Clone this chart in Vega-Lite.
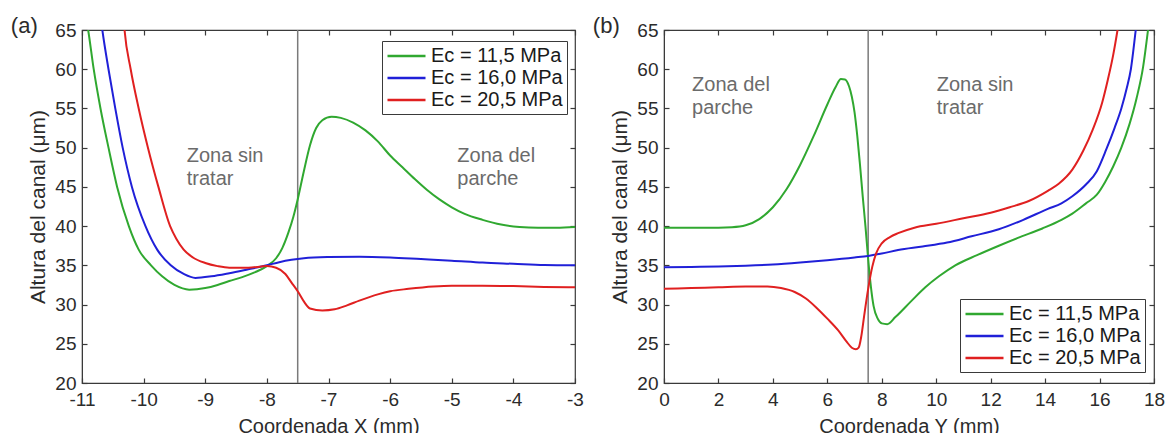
{
  "$schema": "https://vega.github.io/schema/vega-lite/v6.json",
  "padding": {"left": 10, "top": 14, "right": 0, "bottom": 0},
  "background": "white",
  "config": {
    "font": "Liberation Sans",
    "view": {"stroke": "#3a3a3a", "strokeWidth": 1.2},
    "axis": {
      "grid": false,
      "labelFont": "Liberation Sans",
      "titleFont": "Liberation Sans",
      "labelFontSize": 19,
      "titleFontSize": 20,
      "labelColor": "#2b2b2b",
      "titleColor": "#2b2b2b",
      "titleFontWeight": "normal",
      "domainColor": "#3a3a3a",
      "tickColor": "#3a3a3a",
      "tickWidth": 1.2,
      "tickSize": -5,
      "labelFlush": false,
      "labelOverlap": false
    },
    "title": {"font": "Liberation Sans", "fontSize": 22, "fontWeight": "normal", "color": "#2b2b2b"},
    "legend": {"labelFont": "Liberation Sans"}
  },
  "datasets": {
    "left": [
      {"x": -10.97, "h": 68, "s": "Ec = 11,5 MPa"},
      {"x": -10.9, "h": 65, "s": "Ec = 11,5 MPa"},
      {"x": -10.81, "h": 60, "s": "Ec = 11,5 MPa"},
      {"x": -10.7, "h": 55, "s": "Ec = 11,5 MPa"},
      {"x": -10.57, "h": 50, "s": "Ec = 11,5 MPa"},
      {"x": -10.43, "h": 45, "s": "Ec = 11,5 MPa"},
      {"x": -10.24, "h": 40, "s": "Ec = 11,5 MPa"},
      {"x": -10.08, "h": 37, "s": "Ec = 11,5 MPa"},
      {"x": -9.88, "h": 35, "s": "Ec = 11,5 MPa"},
      {"x": -9.7, "h": 33.6, "s": "Ec = 11,5 MPa"},
      {"x": -9.5, "h": 32.5, "s": "Ec = 11,5 MPa"},
      {"x": -9.26, "h": 31.9, "s": "Ec = 11,5 MPa"},
      {"x": -9.0, "h": 32.1, "s": "Ec = 11,5 MPa"},
      {"x": -8.8, "h": 32.5, "s": "Ec = 11,5 MPa"},
      {"x": -8.61, "h": 33.0, "s": "Ec = 11,5 MPa"},
      {"x": -8.4, "h": 33.5, "s": "Ec = 11,5 MPa"},
      {"x": -8.2, "h": 34.1, "s": "Ec = 11,5 MPa"},
      {"x": -8.0, "h": 34.9, "s": "Ec = 11,5 MPa"},
      {"x": -7.85, "h": 35.9, "s": "Ec = 11,5 MPa"},
      {"x": -7.75, "h": 37.2, "s": "Ec = 11,5 MPa"},
      {"x": -7.65, "h": 39.2, "s": "Ec = 11,5 MPa"},
      {"x": -7.57, "h": 41.2, "s": "Ec = 11,5 MPa"},
      {"x": -7.5, "h": 43.4, "s": "Ec = 11,5 MPa"},
      {"x": -7.4, "h": 47.0, "s": "Ec = 11,5 MPa"},
      {"x": -7.3, "h": 50.3, "s": "Ec = 11,5 MPa"},
      {"x": -7.2, "h": 52.5, "s": "Ec = 11,5 MPa"},
      {"x": -7.1, "h": 53.5, "s": "Ec = 11,5 MPa"},
      {"x": -6.95, "h": 53.95, "s": "Ec = 11,5 MPa"},
      {"x": -6.8, "h": 53.8, "s": "Ec = 11,5 MPa"},
      {"x": -6.6, "h": 53.2, "s": "Ec = 11,5 MPa"},
      {"x": -6.4, "h": 52.2, "s": "Ec = 11,5 MPa"},
      {"x": -6.2, "h": 50.8, "s": "Ec = 11,5 MPa"},
      {"x": -6.0, "h": 49.0, "s": "Ec = 11,5 MPa"},
      {"x": -5.8, "h": 47.5, "s": "Ec = 11,5 MPa"},
      {"x": -5.6, "h": 46.0, "s": "Ec = 11,5 MPa"},
      {"x": -5.4, "h": 44.6, "s": "Ec = 11,5 MPa"},
      {"x": -5.2, "h": 43.4, "s": "Ec = 11,5 MPa"},
      {"x": -5.0, "h": 42.4, "s": "Ec = 11,5 MPa"},
      {"x": -4.8, "h": 41.6, "s": "Ec = 11,5 MPa"},
      {"x": -4.5, "h": 40.8, "s": "Ec = 11,5 MPa"},
      {"x": -4.2, "h": 40.2, "s": "Ec = 11,5 MPa"},
      {"x": -3.9, "h": 39.9, "s": "Ec = 11,5 MPa"},
      {"x": -3.6, "h": 39.8, "s": "Ec = 11,5 MPa"},
      {"x": -3.3, "h": 39.8, "s": "Ec = 11,5 MPa"},
      {"x": -3.0, "h": 39.9, "s": "Ec = 11,5 MPa"},

      {"x": -10.72, "h": 68, "s": "Ec = 16,0 MPa"},
      {"x": -10.67, "h": 65, "s": "Ec = 16,0 MPa"},
      {"x": -10.57, "h": 60, "s": "Ec = 16,0 MPa"},
      {"x": -10.46, "h": 55, "s": "Ec = 16,0 MPa"},
      {"x": -10.34, "h": 50, "s": "Ec = 16,0 MPa"},
      {"x": -10.19, "h": 45, "s": "Ec = 16,0 MPa"},
      {"x": -9.97, "h": 40, "s": "Ec = 16,0 MPa"},
      {"x": -9.78, "h": 37, "s": "Ec = 16,0 MPa"},
      {"x": -9.56, "h": 35, "s": "Ec = 16,0 MPa"},
      {"x": -9.35, "h": 33.9, "s": "Ec = 16,0 MPa"},
      {"x": -9.16, "h": 33.4, "s": "Ec = 16,0 MPa"},
      {"x": -8.9, "h": 33.6, "s": "Ec = 16,0 MPa"},
      {"x": -8.61, "h": 34.0, "s": "Ec = 16,0 MPa"},
      {"x": -8.3, "h": 34.5, "s": "Ec = 16,0 MPa"},
      {"x": -8.0, "h": 35.0, "s": "Ec = 16,0 MPa"},
      {"x": -7.8, "h": 35.4, "s": "Ec = 16,0 MPa"},
      {"x": -7.6, "h": 35.7, "s": "Ec = 16,0 MPa"},
      {"x": -7.4, "h": 35.9, "s": "Ec = 16,0 MPa"},
      {"x": -7.0, "h": 36.05, "s": "Ec = 16,0 MPa"},
      {"x": -6.5, "h": 36.1, "s": "Ec = 16,0 MPa"},
      {"x": -6.0, "h": 36.0, "s": "Ec = 16,0 MPa"},
      {"x": -5.5, "h": 35.8, "s": "Ec = 16,0 MPa"},
      {"x": -5.0, "h": 35.6, "s": "Ec = 16,0 MPa"},
      {"x": -4.5, "h": 35.35, "s": "Ec = 16,0 MPa"},
      {"x": -4.0, "h": 35.2, "s": "Ec = 16,0 MPa"},
      {"x": -3.5, "h": 35.05, "s": "Ec = 16,0 MPa"},
      {"x": -3.0, "h": 35.0, "s": "Ec = 16,0 MPa"},

      {"x": -10.34, "h": 68, "s": "Ec = 20,5 MPa"},
      {"x": -10.31, "h": 65, "s": "Ec = 20,5 MPa"},
      {"x": -10.21, "h": 60, "s": "Ec = 20,5 MPa"},
      {"x": -10.08, "h": 55, "s": "Ec = 20,5 MPa"},
      {"x": -9.93, "h": 50, "s": "Ec = 20,5 MPa"},
      {"x": -9.76, "h": 45, "s": "Ec = 20,5 MPa"},
      {"x": -9.57, "h": 40, "s": "Ec = 20,5 MPa"},
      {"x": -9.47, "h": 38.4, "s": "Ec = 20,5 MPa"},
      {"x": -9.35, "h": 37.0, "s": "Ec = 20,5 MPa"},
      {"x": -9.2, "h": 36.0, "s": "Ec = 20,5 MPa"},
      {"x": -9.0, "h": 35.3, "s": "Ec = 20,5 MPa"},
      {"x": -8.8, "h": 34.9, "s": "Ec = 20,5 MPa"},
      {"x": -8.61, "h": 34.7, "s": "Ec = 20,5 MPa"},
      {"x": -8.3, "h": 34.7, "s": "Ec = 20,5 MPa"},
      {"x": -8.0, "h": 34.9, "s": "Ec = 20,5 MPa"},
      {"x": -7.85, "h": 34.7, "s": "Ec = 20,5 MPa"},
      {"x": -7.7, "h": 33.9, "s": "Ec = 20,5 MPa"},
      {"x": -7.6, "h": 32.8, "s": "Ec = 20,5 MPa"},
      {"x": -7.5, "h": 31.7, "s": "Ec = 20,5 MPa"},
      {"x": -7.4, "h": 30.4, "s": "Ec = 20,5 MPa"},
      {"x": -7.3, "h": 29.5, "s": "Ec = 20,5 MPa"},
      {"x": -7.1, "h": 29.25, "s": "Ec = 20,5 MPa"},
      {"x": -6.9, "h": 29.4, "s": "Ec = 20,5 MPa"},
      {"x": -6.7, "h": 29.9, "s": "Ec = 20,5 MPa"},
      {"x": -6.5, "h": 30.5, "s": "Ec = 20,5 MPa"},
      {"x": -6.2, "h": 31.3, "s": "Ec = 20,5 MPa"},
      {"x": -6.0, "h": 31.7, "s": "Ec = 20,5 MPa"},
      {"x": -5.7, "h": 32.0, "s": "Ec = 20,5 MPa"},
      {"x": -5.3, "h": 32.3, "s": "Ec = 20,5 MPa"},
      {"x": -5.0, "h": 32.4, "s": "Ec = 20,5 MPa"},
      {"x": -4.5, "h": 32.4, "s": "Ec = 20,5 MPa"},
      {"x": -4.0, "h": 32.35, "s": "Ec = 20,5 MPa"},
      {"x": -3.5, "h": 32.25, "s": "Ec = 20,5 MPa"},
      {"x": -3.0, "h": 32.2, "s": "Ec = 20,5 MPa"}
    ],
    "right": [
      {"x": 0, "h": 39.8, "s": "Ec = 11,5 MPa"},
      {"x": 1, "h": 39.8, "s": "Ec = 11,5 MPa"},
      {"x": 2, "h": 39.8, "s": "Ec = 11,5 MPa"},
      {"x": 2.5, "h": 39.85, "s": "Ec = 11,5 MPa"},
      {"x": 3.0, "h": 40.1, "s": "Ec = 11,5 MPa"},
      {"x": 3.5, "h": 40.9, "s": "Ec = 11,5 MPa"},
      {"x": 4.0, "h": 42.4, "s": "Ec = 11,5 MPa"},
      {"x": 4.5, "h": 44.7, "s": "Ec = 11,5 MPa"},
      {"x": 5.0, "h": 47.8, "s": "Ec = 11,5 MPa"},
      {"x": 5.5, "h": 51.5, "s": "Ec = 11,5 MPa"},
      {"x": 6.0, "h": 55.5, "s": "Ec = 11,5 MPa"},
      {"x": 6.3, "h": 57.7, "s": "Ec = 11,5 MPa"},
      {"x": 6.5, "h": 58.75, "s": "Ec = 11,5 MPa"},
      {"x": 6.65, "h": 58.7, "s": "Ec = 11,5 MPa"},
      {"x": 6.8, "h": 57.8, "s": "Ec = 11,5 MPa"},
      {"x": 6.9, "h": 56.5, "s": "Ec = 11,5 MPa"},
      {"x": 7.0, "h": 54.5, "s": "Ec = 11,5 MPa"},
      {"x": 7.1, "h": 51.5, "s": "Ec = 11,5 MPa"},
      {"x": 7.2, "h": 47.8, "s": "Ec = 11,5 MPa"},
      {"x": 7.3, "h": 43.8, "s": "Ec = 11,5 MPa"},
      {"x": 7.4, "h": 40.0, "s": "Ec = 11,5 MPa"},
      {"x": 7.5, "h": 35.8, "s": "Ec = 11,5 MPa"},
      {"x": 7.6, "h": 32.3, "s": "Ec = 11,5 MPa"},
      {"x": 7.7, "h": 29.8, "s": "Ec = 11,5 MPa"},
      {"x": 7.85, "h": 28.2, "s": "Ec = 11,5 MPa"},
      {"x": 8.0, "h": 27.6, "s": "Ec = 11,5 MPa"},
      {"x": 8.2, "h": 27.5, "s": "Ec = 11,5 MPa"},
      {"x": 8.5, "h": 28.4, "s": "Ec = 11,5 MPa"},
      {"x": 9.1, "h": 30.5, "s": "Ec = 11,5 MPa"},
      {"x": 9.6, "h": 32.2, "s": "Ec = 11,5 MPa"},
      {"x": 10.1, "h": 33.6, "s": "Ec = 11,5 MPa"},
      {"x": 10.7, "h": 35.0, "s": "Ec = 11,5 MPa"},
      {"x": 11.5, "h": 36.3, "s": "Ec = 11,5 MPa"},
      {"x": 12.3, "h": 37.5, "s": "Ec = 11,5 MPa"},
      {"x": 13.0, "h": 38.5, "s": "Ec = 11,5 MPa"},
      {"x": 13.9, "h": 39.7, "s": "Ec = 11,5 MPa"},
      {"x": 14.6, "h": 40.8, "s": "Ec = 11,5 MPa"},
      {"x": 15.0, "h": 41.6, "s": "Ec = 11,5 MPa"},
      {"x": 15.5, "h": 42.9, "s": "Ec = 11,5 MPa"},
      {"x": 15.9, "h": 44.0, "s": "Ec = 11,5 MPa"},
      {"x": 16.2, "h": 45.6, "s": "Ec = 11,5 MPa"},
      {"x": 16.5, "h": 47.6, "s": "Ec = 11,5 MPa"},
      {"x": 16.8, "h": 50.0, "s": "Ec = 11,5 MPa"},
      {"x": 17.1, "h": 53.0, "s": "Ec = 11,5 MPa"},
      {"x": 17.36, "h": 56.3, "s": "Ec = 11,5 MPa"},
      {"x": 17.6, "h": 60.3, "s": "Ec = 11,5 MPa"},
      {"x": 17.78, "h": 65, "s": "Ec = 11,5 MPa"},
      {"x": 17.85, "h": 67, "s": "Ec = 11,5 MPa"},

      {"x": 0, "h": 34.75, "s": "Ec = 16,0 MPa"},
      {"x": 1, "h": 34.8, "s": "Ec = 16,0 MPa"},
      {"x": 2, "h": 34.85, "s": "Ec = 16,0 MPa"},
      {"x": 3, "h": 34.95, "s": "Ec = 16,0 MPa"},
      {"x": 4, "h": 35.1, "s": "Ec = 16,0 MPa"},
      {"x": 5, "h": 35.35, "s": "Ec = 16,0 MPa"},
      {"x": 6, "h": 35.65, "s": "Ec = 16,0 MPa"},
      {"x": 7, "h": 36.0, "s": "Ec = 16,0 MPa"},
      {"x": 7.5, "h": 36.2, "s": "Ec = 16,0 MPa"},
      {"x": 8, "h": 36.5, "s": "Ec = 16,0 MPa"},
      {"x": 8.6, "h": 36.95, "s": "Ec = 16,0 MPa"},
      {"x": 9.5, "h": 37.4, "s": "Ec = 16,0 MPa"},
      {"x": 10.4, "h": 37.9, "s": "Ec = 16,0 MPa"},
      {"x": 11.3, "h": 38.7, "s": "Ec = 16,0 MPa"},
      {"x": 12.3, "h": 39.6, "s": "Ec = 16,0 MPa"},
      {"x": 13.2, "h": 40.8, "s": "Ec = 16,0 MPa"},
      {"x": 14.1, "h": 42.2, "s": "Ec = 16,0 MPa"},
      {"x": 14.6, "h": 42.9, "s": "Ec = 16,0 MPa"},
      {"x": 15.0, "h": 43.8, "s": "Ec = 16,0 MPa"},
      {"x": 15.5, "h": 45.3, "s": "Ec = 16,0 MPa"},
      {"x": 15.9, "h": 47.0, "s": "Ec = 16,0 MPa"},
      {"x": 16.25, "h": 49.8, "s": "Ec = 16,0 MPa"},
      {"x": 16.55, "h": 52.5, "s": "Ec = 16,0 MPa"},
      {"x": 16.8, "h": 55.0, "s": "Ec = 16,0 MPa"},
      {"x": 17.0, "h": 57.6, "s": "Ec = 16,0 MPa"},
      {"x": 17.15, "h": 60, "s": "Ec = 16,0 MPa"},
      {"x": 17.33, "h": 65, "s": "Ec = 16,0 MPa"},
      {"x": 17.4, "h": 67, "s": "Ec = 16,0 MPa"},

      {"x": 0, "h": 32.0, "s": "Ec = 20,5 MPa"},
      {"x": 1, "h": 32.1, "s": "Ec = 20,5 MPa"},
      {"x": 2, "h": 32.2, "s": "Ec = 20,5 MPa"},
      {"x": 3, "h": 32.3, "s": "Ec = 20,5 MPa"},
      {"x": 3.8, "h": 32.3, "s": "Ec = 20,5 MPa"},
      {"x": 4.3, "h": 32.1, "s": "Ec = 20,5 MPa"},
      {"x": 4.8, "h": 31.6, "s": "Ec = 20,5 MPa"},
      {"x": 5.2, "h": 30.8, "s": "Ec = 20,5 MPa"},
      {"x": 5.6, "h": 29.6, "s": "Ec = 20,5 MPa"},
      {"x": 6.0, "h": 28.2, "s": "Ec = 20,5 MPa"},
      {"x": 6.4, "h": 26.7, "s": "Ec = 20,5 MPa"},
      {"x": 6.7, "h": 25.3, "s": "Ec = 20,5 MPa"},
      {"x": 6.9, "h": 24.5, "s": "Ec = 20,5 MPa"},
      {"x": 7.05, "h": 24.3, "s": "Ec = 20,5 MPa"},
      {"x": 7.15, "h": 24.5, "s": "Ec = 20,5 MPa"},
      {"x": 7.25, "h": 26.0, "s": "Ec = 20,5 MPa"},
      {"x": 7.35, "h": 28.5, "s": "Ec = 20,5 MPa"},
      {"x": 7.5, "h": 32.0, "s": "Ec = 20,5 MPa"},
      {"x": 7.65, "h": 34.8, "s": "Ec = 20,5 MPa"},
      {"x": 7.8, "h": 36.6, "s": "Ec = 20,5 MPa"},
      {"x": 8.0, "h": 37.8, "s": "Ec = 20,5 MPa"},
      {"x": 8.3, "h": 38.6, "s": "Ec = 20,5 MPa"},
      {"x": 8.6, "h": 39.1, "s": "Ec = 20,5 MPa"},
      {"x": 9.2, "h": 39.8, "s": "Ec = 20,5 MPa"},
      {"x": 10.0, "h": 40.3, "s": "Ec = 20,5 MPa"},
      {"x": 11.0, "h": 41.0, "s": "Ec = 20,5 MPa"},
      {"x": 12.0, "h": 41.7, "s": "Ec = 20,5 MPa"},
      {"x": 12.7, "h": 42.4, "s": "Ec = 20,5 MPa"},
      {"x": 13.4, "h": 43.2, "s": "Ec = 20,5 MPa"},
      {"x": 14.1, "h": 44.5, "s": "Ec = 20,5 MPa"},
      {"x": 14.5, "h": 45.4, "s": "Ec = 20,5 MPa"},
      {"x": 15.0, "h": 47.2, "s": "Ec = 20,5 MPa"},
      {"x": 15.4, "h": 49.6, "s": "Ec = 20,5 MPa"},
      {"x": 15.75, "h": 52.3, "s": "Ec = 20,5 MPa"},
      {"x": 16.1, "h": 55.8, "s": "Ec = 20,5 MPa"},
      {"x": 16.3, "h": 58.6, "s": "Ec = 20,5 MPa"},
      {"x": 16.5, "h": 61.8, "s": "Ec = 20,5 MPa"},
      {"x": 16.66, "h": 65, "s": "Ec = 20,5 MPa"},
      {"x": 16.75, "h": 67, "s": "Ec = 20,5 MPa"}
    ],
    "notesL": [
      {"x": -9.3, "h": 49.0, "t": "Zona sin"},
      {"x": -9.3, "h": 46.0, "t": "tratar"},
      {"x": -4.91, "h": 49.0, "t": "Zona del"},
      {"x": -4.91, "h": 46.0, "t": "parche"}
    ],
    "notesR": [
      {"x": 1.03, "h": 58.0, "t": "Zona del"},
      {"x": 1.03, "h": 55.0, "t": "parche"},
      {"x": 10.02, "h": 58.0, "t": "Zona sin"},
      {"x": 10.02, "h": 55.0, "t": "tratar"}
    ],
    "lineL": [{"x": -7.5, "h": 20, "h2": 65}],
    "lineR": [{"x": 7.5, "h": 20, "h2": 65}]
  },
  "spacing": 7,
  "resolve": {"legend": {"color": "independent"}},
  "hconcat": [
    {
      "width": 493,
      "height": 353,
      "title": {"text": "(a)", "anchor": "start", "frame": "bounds", "offset": 0, "dx": -17, "dy": 17},
      "resolve": {"axis": {"x": "independent", "y": "independent"}},
      "layer": [
        {
          "data": {"name": "lineL"},
          "mark": {"type": "rule", "color": "#7a7a7a", "strokeWidth": 1.5},
          "encoding": {
            "x": {"field": "x", "type": "quantitative", "scale": {"domain": [-11, -3], "nice": false, "zero": false}, "axis": null},
            "y": {"field": "h", "type": "quantitative", "scale": {"domain": [20, 65], "nice": false, "zero": false}, "axis": null},
            "y2": {"field": "h2"}
          }
        },
        {
          "data": {"name": "left"},
          "mark": {"type": "line", "clip": true, "strokeWidth": 2, "interpolate": "monotone"},
          "encoding": {
            "x": {"field": "x", "type": "quantitative", "scale": {"domain": [-11, -3], "nice": false, "zero": false},
                  "axis": {"title": "Coordenada X (mm)", "values": [-11, -10, -9, -8, -7, -6, -5, -4, -3], "labelExpr": "'' + datum.value", "labelPadding": 12, "titlePadding": 7}},
            "y": {"field": "h", "type": "quantitative", "scale": {"domain": [20, 65], "nice": false, "zero": false},
                  "axis": {"title": "Altura del canal (μm)", "titleFontSize": 21, "values": [20, 25, 30, 35, 40, 45, 50, 55, 60, 65], "labelExpr": "'' + datum.value", "labelPadding": 11, "titlePadding": 6}},
            "color": {"field": "s", "type": "nominal",
                      "scale": {"domain": ["Ec = 11,5 MPa", "Ec = 16,0 MPa", "Ec = 20,5 MPa"], "range": ["#30a830", "#2020d8", "#e02020"]},
                      "legend": {"title": null, "orient": "none", "legendX": 300, "legendY": 11, "symbolType": "M-1,0H3", "symbolSize": 361, "symbolStrokeWidth": 2.5,
                                 "labelFontSize": 20, "labelColor": "#1a1a1a", "labelOffset": 23, "strokeColor": "#3a3a3a", "fillColor": "white", "padding": 4, "rowPadding": 1}}
          }
        },
        {
          "data": {"name": "notesL"},
          "mark": {"type": "text", "align": "left", "baseline": "middle", "fontSize": 20, "color": "#6b6b6b", "font": "Liberation Sans"},
          "encoding": {
            "x": {"field": "x", "type": "quantitative", "scale": {"domain": [-11, -3], "nice": false, "zero": false},
                  "axis": {"orient": "top", "title": null, "labels": false, "domain": false, "values": [-11, -10, -9, -8, -7, -6, -5, -4, -3], "minExtent": 0, "offset": 0}},
            "y": {"field": "h", "type": "quantitative", "scale": {"domain": [20, 65], "nice": false, "zero": false},
                  "axis": {"orient": "right", "title": null, "labels": false, "domain": false, "values": [20, 25, 30, 35, 40, 45, 50, 55, 60, 65], "minExtent": 0, "offset": 0}},
            "text": {"field": "t"}
          }
        }
      ]
    },
    {
      "width": 490,
      "height": 353,
      "title": {"text": "(b)", "anchor": "start", "frame": "bounds", "offset": 0, "dx": -17, "dy": 17},
      "resolve": {"axis": {"x": "independent", "y": "independent"}},
      "layer": [
        {
          "data": {"name": "lineR"},
          "mark": {"type": "rule", "color": "#7a7a7a", "strokeWidth": 1.5},
          "encoding": {
            "x": {"field": "x", "type": "quantitative", "scale": {"domain": [0, 18], "nice": false, "zero": false}, "axis": null},
            "y": {"field": "h", "type": "quantitative", "scale": {"domain": [20, 65], "nice": false, "zero": false}, "axis": null},
            "y2": {"field": "h2"}
          }
        },
        {
          "data": {"name": "right"},
          "mark": {"type": "line", "clip": true, "strokeWidth": 2, "interpolate": "monotone"},
          "encoding": {
            "x": {"field": "x", "type": "quantitative", "scale": {"domain": [0, 18], "nice": false, "zero": false},
                  "axis": {"title": "Coordenada Y (mm)", "values": [0, 2, 4, 6, 8, 10, 12, 14, 16, 18], "labelExpr": "'' + datum.value", "labelPadding": 12, "titlePadding": 7}},
            "y": {"field": "h", "type": "quantitative", "scale": {"domain": [20, 65], "nice": false, "zero": false},
                  "axis": {"title": "Altura del canal (μm)", "titleFontSize": 21, "values": [20, 25, 30, 35, 40, 45, 50, 55, 60, 65], "labelExpr": "'' + datum.value", "labelPadding": 11, "titlePadding": 6}},
            "color": {"field": "s", "type": "nominal",
                      "scale": {"domain": ["Ec = 11,5 MPa", "Ec = 16,0 MPa", "Ec = 20,5 MPa"], "range": ["#30a830", "#2020d8", "#e02020"]},
                      "legend": {"title": null, "orient": "none", "legendX": 296, "legendY": 269, "symbolType": "M-1,0H3", "symbolSize": 361, "symbolStrokeWidth": 2.5,
                                 "labelFontSize": 20, "labelColor": "#1a1a1a", "labelOffset": 23, "strokeColor": "#3a3a3a", "fillColor": "white", "padding": 4, "rowPadding": 1}}
          }
        },
        {
          "data": {"name": "notesR"},
          "mark": {"type": "text", "align": "left", "baseline": "middle", "fontSize": 20, "color": "#6b6b6b", "font": "Liberation Sans"},
          "encoding": {
            "x": {"field": "x", "type": "quantitative", "scale": {"domain": [0, 18], "nice": false, "zero": false},
                  "axis": {"orient": "top", "title": null, "labels": false, "domain": false, "values": [0, 2, 4, 6, 8, 10, 12, 14, 16, 18], "minExtent": 0, "offset": 0}},
            "y": {"field": "h", "type": "quantitative", "scale": {"domain": [20, 65], "nice": false, "zero": false},
                  "axis": {"orient": "right", "title": null, "labels": false, "domain": false, "values": [20, 25, 30, 35, 40, 45, 50, 55, 60, 65], "minExtent": 0, "offset": 0}},
            "text": {"field": "t"}
          }
        }
      ]
    }
  ]
}
